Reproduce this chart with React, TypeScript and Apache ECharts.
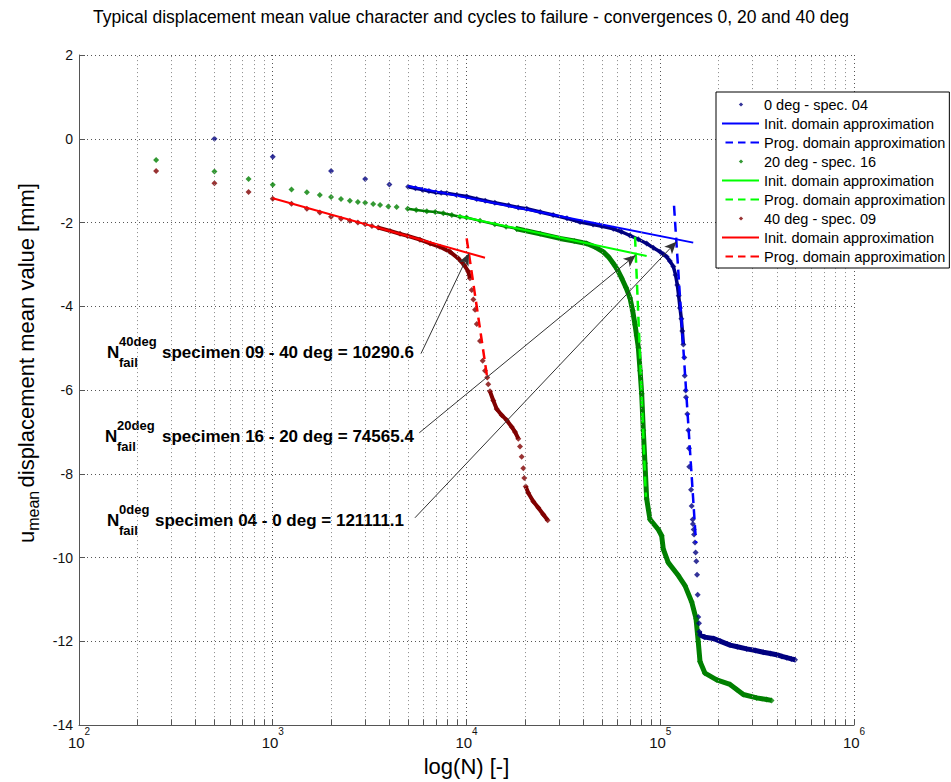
import React, { useEffect, useRef } from "react";
import * as echarts from "echarts";

const FONT = "Arial, 'Liberation Sans', Helvetica, sans-serif";

// ---------- data (N cycles, displacement mean value [mm]) ----------
// 0 deg - specimen 04
const spec04Sparse: number[][] = [
  [500, 0], [1000, -0.43], [2000, -0.77], [3000, -0.96], [4000, -1.09],
];
const spec04Main: number[][] = [
  [5000, -1.145], [5450, -1.18], [5916, -1.215], [6400, -1.25], [6940, -1.28], [7400, -1.29],
  [7906, -1.3], [8900, -1.34], [10020, -1.38], [11300, -1.44], [12500, -1.48], [14000, -1.53],
  [16500, -1.59], [18500, -1.64], [20460, -1.67], [24000, -1.75], [28000, -1.82], [33000, -1.9],
  [38550, -1.99], [45000, -2.05], [50000, -2.09], [57300, -2.15], [63000, -2.22], [69800, -2.31],
  [77000, -2.4], [85100, -2.5], [92000, -2.6], [99800, -2.7], [104000, -2.76], [108000, -2.82],
  [112000, -2.92], [116800, -3.05], [120000, -3.25], [122500, -3.49], [124500, -3.75],
  [126500, -4.04], [128500, -4.3], [130000, -4.59], [131600, -4.91],
];
const spec04Drop: number[][] = [
  [133100, -5.22], [133800, -5.66], [135300, -6.01], [135800, -6.17], [137900, -6.57],
  [139700, -6.96], [140700, -7.39], [141200, -7.83], [144200, -8.38], [145300, -8.77],
  [147000, -9.09], [147500, -9.2], [148800, -9.33], [149500, -9.45], [151100, -9.64],
  [152300, -9.88], [153500, -10.09], [154900, -10.41], [156000, -10.89], [157100, -11.42],
  [158500, -11.57],
];
const spec04Tail: number[][] = [
  [159100, -11.77], [160400, -11.85], [170000, -11.9], [187800, -11.93], [205000, -12.0],
  [229200, -12.09], [250000, -12.13], [279400, -12.18], [310000, -12.22], [340400, -12.26],
  [370000, -12.29], [399000, -12.32], [425000, -12.36], [449600, -12.39], [475000, -12.42],
  [496200, -12.44],
];

// 20 deg - specimen 16
const spec16Sparse: number[][] = [
  [250, -0.51], [500, -0.78], [750, -0.96], [1000, -1.1], [1250, -1.21], [1500, -1.28],
  [1750, -1.34], [2000, -1.39], [2250, -1.44], [2500, -1.48], [2750, -1.51], [3000, -1.53],
  [3300, -1.56], [3580, -1.58], [3950, -1.62], [4360, -1.63],
];
const spec16Early: number[][] = [
  [4970, -1.67], [5500, -1.7], [6240, -1.73], [6900, -1.75], [7590, -1.78], [8400, -1.82],
  [9250, -1.86], [10000, -1.88], [11750, -1.96], [14000, -2.04], [16000, -2.1], [18150, -2.15],
];
const spec16Main: number[][] = [
  [18150, -2.15], [24000, -2.27],
  [30340, -2.38], [36000, -2.44], [41690, -2.5], [46000, -2.58], [50800, -2.7], [54000, -2.82],
  [57300, -2.98], [60000, -3.12], [63240, -3.33], [66500, -3.55], [69800, -3.8], [72000, -4.1],
  [74100, -4.44], [75500, -4.7], [77100, -4.99], [78700, -5.54], [80200, -6.09], [81750, -6.96],
  [83400, -7.75], [85100, -8.6], [88500, -9.09], [97700, -9.33], [101700, -9.48], [103700, -9.8],
  [110000, -10.12], [124000, -10.43], [134200, -10.67], [145300, -11.06], [153000, -11.46],
  [157100, -12.01], [160400, -12.48], [170200, -12.76], [195600, -12.92], [229200, -13.03],
  [248100, -13.15], [268300, -13.27], [314700, -13.35], [354100, -13.39], [375500, -13.41],
];

// 40 deg - specimen 09
const spec09Sparse: number[][] = [
  [250, -0.77], [500, -1.06], [750, -1.27], [1000, -1.43], [1250, -1.55], [1500, -1.67],
  [1750, -1.76], [2000, -1.86], [2250, -1.91], [2500, -1.96], [2750, -2.0], [3000, -2.04],
  [3250, -2.08], [10640, -3.61], [10850, -3.84], [11070, -4.08], [11300, -4.42], [11740, -4.83],
  [12120, -5.3], [12460, -5.54], [12800, -5.7], [12950, -5.86], [18890, -7.35], [19270, -7.59],
  [19650, -7.87], [19880, -8.1],
];
const spec09MainA: number[][] = [
  [3500, -2.12], [4030, -2.2], [4540, -2.27], [4970, -2.32], [5750, -2.41], [6490, -2.5],
  [7300, -2.58], [8220, -2.7], [9080, -2.86], [9750, -3.02], [10210, -3.17], [10420, -3.33],
];
const spec09MainB: number[][] = [
  [13220, -6.03], [13750, -6.25], [14320, -6.45], [15200, -6.6], [16130, -6.72], [17120, -6.88],
  [17800, -7.0], [18510, -7.16],
];
const spec09MainC: number[][] = [
  [20210, -8.3], [20840, -8.46], [22120, -8.66], [23480, -8.81], [24920, -8.97], [26250, -9.11],
];

// domain approximations
const blueInit: number[][] = [[5000, -1.13], [148000, -2.48]];
const blueProg: number[][] = [[117800, -1.6], [153000, -9.65]];
const greenInit: number[][] = [[9000, -1.84], [85100, -2.8]];
const greenProg: number[][] = [[74100, -2.34], [84300, -8.55]];
const redInit: number[][] = [[1000, -1.42], [12460, -2.84]];
const redProg: number[][] = [[10020, -2.38], [12790, -5.7]];

// failure points and annotation arrows
const failN = [10290.6, 74565.4, 121111.1];
const failY = [-2.74, -2.78, -2.46];
const arrowTailN = [5821, 5707, 5420];
const arrowTailY = [-5.13, -7.02, -9.05];
const annoSup = ["40deg", "20deg", "0deg"];
const annoText = [
  "specimen 09 - 40 deg = 10290.6",
  "specimen 16 - 20 deg = 74565.4",
  "specimen 04 - 0 deg = 121111.1",
];

// axis ticks
const yTicks = { min: -14, max: 2, interval: 2 };
const xDecades = [100, 1000, 10000, 100000];
const minorMult = [2, 3, 4, 5, 6, 7, 8, 9];

const NAME04 = "0 deg - spec. 04";
const NAME16 = "20 deg - spec. 16";
const NAME09 = "40 deg - spec. 09";
const INIT = "Init. domain approximation";
const PROG = "Prog. domain approximation";

const C_NAVY = "#000080";
const C_DGREEN = "#008000";
const C_DRED = "#800000";
const C_BLUE = "#0000ff";
const C_GREEN = "#00ff00";
const C_RED = "#ff0000";

const ICON_DOT = "path://M0,0M37,10M19,3L21.2,5L19,7L16.8,5Z";
const ICON_LINE = "path://M0,0M37,10M0,4.1L37,4.1L37,5.9L0,5.9Z";
const ICON_DASH =
  "path://M0,0M37,10M3.5,4.1L11,4.1L11,5.9L3.5,5.9ZM16,4.1L23.5,4.1L23.5,5.9L16,5.9ZM28.5,4.1L37,4.1L37,5.9L28.5,5.9Z";

function buildOption(): any {
  const minorN: number[] = [];
  xDecades.forEach((d) => minorMult.forEach((m) => minorN.push(d * m)));

  const scatter = (name: string, color: string, data: number[][]) => ({
    type: "scatter",
    name,
    data,
    symbol: "diamond",
    symbolSize: [6, 6],
    itemStyle: { color },
    silent: true,
    z: 3,
  });
  const seg = (name: string, color: string, data: number[][], width: number) => ({
    type: "line",
    name,
    data,
    showSymbol: false,
    symbol: "none",
    lineStyle: { color, width },
    itemStyle: { color },
    silent: true,
    z: 3,
  });
  const approx = (name: string, color: string, data: number[][], dashed: boolean) => ({
    type: "line",
    name,
    data,
    showSymbol: false,
    symbol: "none",
    lineStyle: { color, width: dashed ? 2.5 : 2, type: dashed ? [10, 6] : "solid" },
    itemStyle: { color },
    silent: true,
    z: 4,
  });

  const gridLineStyle = { type: [1, 3], color: "#555", width: 1 };

  return {
    animation: false,
    backgroundColor: "#fff",
    title: {
      text: "Typical displacement mean value character and cycles to failure - convergences 0, 20 and 40 deg",
      left: 466,
      top: 3,
      textAlign: "center",
      textStyle: { fontSize: 17.5, fontWeight: "normal", color: "#000", fontFamily: FONT },
    },
    grid: { left: 79, top: 55, width: 775, height: 676, containLabel: false },
    legend: {
      left: 716,
      top: 92,
      orient: "vertical",
      itemWidth: 37,
      itemHeight: 10,
      itemGap: 4,
      padding: [5, 4, 4, 6],
      backgroundColor: "#fff",
      borderColor: "#000",
      borderWidth: 1,
      borderRadius: 0,
      selectedMode: false,
      itemStyle: { borderWidth: 0 },
      textStyle: { fontSize: 14.5, color: "#000", fontFamily: FONT },
      formatter: (n: string) => n.trim(),
      data: [
        { name: NAME04, icon: ICON_DOT },
        { name: INIT, icon: ICON_LINE },
        { name: PROG, icon: ICON_DASH },
        { name: NAME16, icon: ICON_DOT },
        { name: INIT + " ", icon: ICON_LINE },
        { name: PROG + " ", icon: ICON_DASH },
        { name: NAME09, icon: ICON_DOT },
        { name: INIT + "  ", icon: ICON_LINE },
        { name: PROG + "  ", icon: ICON_DASH },
      ],
      z: 20,
    },
    xAxis: {
      type: "log",
      logBase: 10,
      min: 100,
      max: 1000000,
      splitNumber: 4,
      axisLine: { show: true, onZero: false, lineStyle: { color: "#555", width: 1 } },
      axisTick: { show: true, inside: true, length: 6, lineStyle: { color: "#555" } },
      splitLine: { show: true, lineStyle: gridLineStyle },
      axisLabel: {
        margin: 1,
        formatter: (v: number) => `{b|10}{s|${Math.round(Math.log10(v))}}`,
        rich: {
          b: { fontSize: 15, lineHeight: 24, verticalAlign: "bottom", color: "#111", fontFamily: FONT },
          s: { fontSize: 10, verticalAlign: "top", color: "#111", fontFamily: FONT },
        },
      },
      name: "log(N) [-]",
      nameLocation: "middle",
      nameGap: 26,
      nameTextStyle: { fontSize: 22, color: "#000", fontFamily: FONT },
    },
    yAxis: {
      type: "value",
      min: yTicks.min,
      max: yTicks.max,
      interval: yTicks.interval,
      axisLine: { show: true, onZero: false, lineStyle: { color: "#555", width: 1 } },
      axisTick: { show: true, inside: true, length: 6, lineStyle: { color: "#555" } },
      splitLine: { show: true, lineStyle: gridLineStyle },
      axisLabel: { fontSize: 14, color: "#111", fontFamily: FONT, margin: 6 },
      name: "{u|u}{sub|mean} {t|displacement mean value [mm]}",
      nameLocation: "middle",
      nameRotate: 90,
      nameGap: 35,
      nameTextStyle: {
        padding: [0, 0, 0, 54],
        rich: {
          u: { fontSize: 22, lineHeight: 26, verticalAlign: "top", color: "#000", fontFamily: FONT },
          t: { fontSize: 22, lineHeight: 26, verticalAlign: "top", color: "#000", fontFamily: FONT },
          sub: { fontSize: 16, lineHeight: 16, verticalAlign: "bottom", color: "#000", fontFamily: FONT },
        },
      },
    },
    graphic: annoSup.map((sup, i) => {
      const pos = [
        { x: 107, y: 352.5, tx: 55 },
        { x: 105, y: 436.5, tx: 57 },
        { x: 107, y: 520, tx: 48 },
      ][i];
      return {
        type: "group",
        x: pos.x,
        y: pos.y,
        z: 30,
        children: [
          { type: "text", style: { text: "N", x: 0, y: 0, font: `bold 17px ${FONT}`, fill: "#000", verticalAlign: "middle" } },
          { type: "text", style: { text: sup, x: 12, y: -11, font: `bold 13px ${FONT}`, fill: "#000", verticalAlign: "middle" } },
          { type: "text", style: { text: "fail", x: 12, y: 10, font: `bold 13px ${FONT}`, fill: "#000", verticalAlign: "middle" } },
          { type: "text", style: { text: annoText[i], x: pos.tx, y: 0, font: `bold 17px ${FONT}`, fill: "#000", verticalAlign: "middle" } },
        ],
      };
    }),
    series: [
      {
        type: "line",
        name: "grid-minor",
        data: [],
        silent: true,
        z: 1,
        markLine: {
          silent: true,
          animation: false,
          symbol: ["none", "none"],
          label: { show: false },
          lineStyle: { type: [1, 3], color: "#888", width: 1 },
          emphasis: { disabled: true },
          data: [
            ...minorN.map((n) => ({ xAxis: n })),
            ...minorN.map((n) => [
              { coord: [n, yTicks.min], lineStyle: { type: "solid", color: "#555", width: 1 } },
              { coord: [n, yTicks.min + 0.14] },
            ]),
          ],
        },
      },
      scatter(NAME04, C_NAVY, [...spec04Sparse, ...spec04Main, ...spec04Drop, ...spec04Tail]),
      scatter(NAME16, C_DGREEN, [...spec16Sparse, ...spec16Early, ...spec16Main]),
      scatter(NAME09, C_DRED, [...spec09Sparse, ...spec09MainA, ...spec09MainB, ...spec09MainC]),
      seg(NAME04, C_NAVY, spec04Main, 3.5),
      seg(NAME04, C_NAVY, spec04Tail, 5),
      seg(NAME16, C_DGREEN, spec16Early, 2.5),
      seg(NAME16, C_DGREEN, spec16Main, 5),
      seg(NAME09, C_DRED, spec09MainA, 4),
      seg(NAME09, C_DRED, spec09MainB, 4),
      seg(NAME09, C_DRED, spec09MainC, 4),
      approx(INIT, C_BLUE, blueInit, false),
      approx(PROG, C_BLUE, blueProg, true),
      approx(INIT + " ", C_GREEN, greenInit, false),
      approx(PROG + " ", C_GREEN, greenProg, true),
      approx(INIT + "  ", C_RED, redInit, false),
      approx(PROG + "  ", C_RED, redProg, true),
      {
        type: "line",
        name: "arrows",
        data: [],
        silent: true,
        z: 10,
        markLine: {
          silent: true,
          animation: false,
          symbol: ["none", "arrow"],
          symbolSize: [8, 12],
          label: { show: false },
          emphasis: { disabled: true },
          lineStyle: { type: "solid", color: "#333", width: 1 },
          itemStyle: { color: "#000" },
          data: failN.map((n, i) => [
            { coord: [arrowTailN[i], arrowTailY[i]] },
            { coord: [n, failY[i]] },
          ]),
        },
      },
    ],
  };
}

export default function App() {
  const ref = useRef<HTMLDivElement>(null);
  useEffect(() => {
    if (!ref.current) return;
    const chart = echarts.init(ref.current, null, { renderer: "svg" });
    chart.setOption(buildOption());
    return () => chart.dispose();
  }, []);
  return (
    <div
      ref={ref}
      style={{ position: "fixed", left: 0, top: 0, width: 951, height: 782, background: "#fff" }}
    />
  );
}
